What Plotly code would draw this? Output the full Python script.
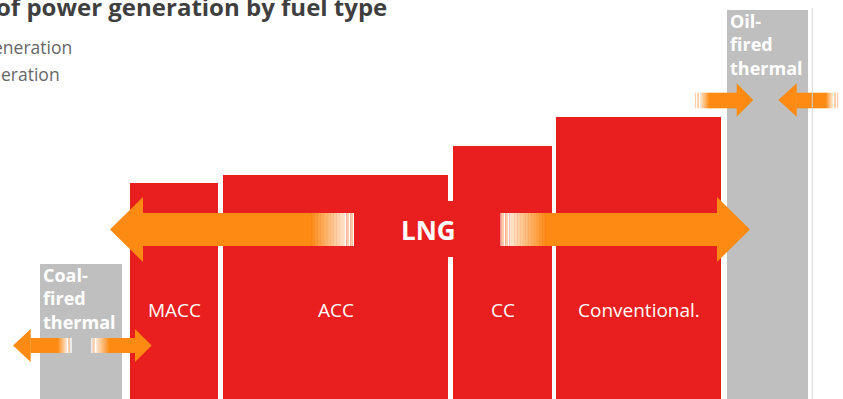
import plotly.graph_objects as go

# ---------------- data ----------------
categories = ["Coal-fired thermal", "MACC", "ACC", "CC", "Conventional.", "Oil-fired thermal"]
bar_labels = ["Coal-<br>fired<br>thermal", "MACC", "ACC", "CC", "Conventional.", "Oil-<br>fired<br>thermal"]
widths = [82, 88, 225, 99, 165, 81]
heights = [135, 216, 224, 253, 282, 389]
fuel_group = ["other", "lng", "lng", "lng", "lng", "other"]
title_text = "of power generation by fuel type"
legend_lines = ["eneration", "eration"]
center_label = "LNG"

# ---------------- style ----------------
W, H = 843, 399
RED = "#E91E1E"
GRAY = "#BFBFBF"
ORANGE = "#FD8A12"
LIGHT = "#FFE6D0"
STRIPE = "#FFCDA8"
FONT = "Open Sans"
GAPS = [8, 5, 5, 4, 6]
X_START = 40

lefts = []
xpos = X_START
for i, w in enumerate(widths):
    lefts.append(xpos)
    xpos += w + (GAPS[i] if i < len(GAPS) else 0)
centers = [l + w / 2 for l, w in zip(lefts, widths)]
colors = [RED if g == "lng" else GRAY for g in fuel_group]


def Y(py):
    return H - py


shapes = []


def rect(x0, x1, y0, y1, color):
    shapes.append(dict(type="rect", xref="x", yref="y", x0=x0, x1=x1, y0=Y(y1), y1=Y(y0),
                       fillcolor=color, line=dict(width=0), layer="above"))


def tri(pts, color):
    d = "M " + " L ".join(f"{x},{Y(y)}" for x, y in pts) + " Z"
    shapes.append(dict(type="path", xref="x", yref="y", path=d, fillcolor=color,
                       line=dict(width=0), layer="above"))


def hexrgb(c):
    c = c.lstrip("#")
    return tuple(int(c[i:i + 2], 16) for i in (0, 2, 4))


def grad(x0, x1, y0, y1, c0, c1, n=24):
    a, b = hexrgb(c0), hexrgb(c1)
    step = (x1 - x0) / n
    for i in range(n):
        t = i / (n - 1)
        col = "rgb(%d,%d,%d)" % tuple(round(a[k] + (b[k] - a[k]) * t) for k in range(3))
        rect(x0 + i * step, x0 + (i + 1) * step + 0.4, y0, y1, col)


def stripes(x0, y0, y1, seq):
    x = x0
    for w, col in seq:
        rect(x, x + w, y0, y1, col)
        x += w


# red box behind LNG label (breaks the gap line)
rect(357, 499, 201, 257, RED)

# LNG double arrow
sy0, sy1, hy0, hy1, cy = 213, 246, 197, 262, 229.5
tri([(110, cy), (143, hy0), (143, hy1)], ORANGE)
rect(142.5, 310, sy0, sy1, ORANGE)
grad(310, 345, sy0, sy1, ORANGE, LIGHT)
stripes(345, sy0, sy1, [(1.5, "white"), (2.5, STRIPE), (1.5, "white"), (2.5, STRIPE), (1.0, "white")])
stripes(500.5, sy0, sy1, [(1.0, "white"), (2.5, STRIPE), (1.5, "white"), (2.5, STRIPE), (1.5, "white")])
grad(509.5, 547, sy0, sy1, LIGHT, ORANGE)
rect(546.5, 717.5, sy0, sy1, ORANGE)
tri([(750, cy), (717, hy0), (717, hy1)], ORANGE)

# coal double arrow
sy0, sy1, hy0, hy1, cy = 338, 353, 329, 362, 345.5
tri([(13, cy), (30.7, hy0), (30.7, hy1)], ORANGE)
rect(30.5, 57, sy0, sy1, ORANGE)
grad(57, 67, sy0, sy1, ORANGE, LIGHT, 10)
stripes(67, sy0, sy1, [(1.2, "white"), (2.2, STRIPE), (1.3, "white")])
stripes(91.3, sy0, sy1, [(1.3, "white"), (2.2, STRIPE), (1.2, "white")])
grad(96, 110, sy0, sy1, LIGHT, ORANGE, 12)
rect(109.5, 135.5, sy0, sy1, ORANGE)
tri([(151.7, cy), (135, hy0), (135, hy1)], ORANGE)

# oil converging arrows
sy0, sy1, hy0, hy1, cy = 92.7, 108.3, 83.3, 116.7, 100
stripes(695, sy0, sy1, [(1.2, STRIPE), (1.0, "white"), (2.0, STRIPE), (1.0, "white")])
grad(700, 710, sy0, sy1, LIGHT, ORANGE, 10)
rect(709.5, 737, sy0, sy1, ORANGE)
tri([(753.3, cy), (736.7, hy0), (736.7, hy1)], ORANGE)
tri([(778.3, cy), (796.7, hy0), (796.7, hy1)], ORANGE)
rect(796.5, 825.5, sy0, sy1, ORANGE)
grad(825, 833, sy0, sy1, ORANGE, LIGHT, 8)
stripes(833, sy0, sy1, [(1.0, "white"), (2.0, STRIPE), (1.0, "white"), (1.2, STRIPE)])

# thin right border line
shapes.append(dict(type="line", xref="x", yref="y", x0=812.3, x1=812.3, y0=Y(8), y1=Y(H),
                   line=dict(color="#D4D4D4", width=1), layer="above"))

fig = go.Figure()
fig.add_trace(go.Bar(x=centers, y=heights, width=widths, marker=dict(color=colors, line=dict(width=0)),
                     hoverinfo="skip", showlegend=False, text=categories, textposition="none"))

annotations = []
# title and legend fragments
annotations.append(dict(x=389, y=Y(6), xref="x", yref="y", xanchor="right", yanchor="middle",
                        text="<b>" + title_text + "</b>", showarrow=False,
                        font=dict(family=FONT, size=24, color="#3F3F3F")))
annotations.append(dict(x=74, y=Y(47), xref="x", yref="y", xanchor="right", yanchor="middle",
                        text=legend_lines[0], showarrow=False,
                        font=dict(family=FONT, size=17.5, color="#666666")))
annotations.append(dict(x=62, y=Y(74), xref="x", yref="y", xanchor="right", yanchor="middle",
                        text=legend_lines[1], showarrow=False,
                        font=dict(family=FONT, size=17.5, color="#666666")))

# bar labels
for i, (c, lab) in enumerate(zip(centers, bar_labels)):
    if fuel_group[i] == "lng":
        annotations.append(dict(x=c, y=Y(310), xref="x", yref="y", xanchor="center", yanchor="middle",
                                text=lab, showarrow=False,
                                font=dict(family=FONT, size=19, color="white")))
    else:
        top = H - heights[i]
        annotations.append(dict(x=lefts[i] + 1, y=Y(top + 34), xref="x", yref="y", xanchor="left",
                                yanchor="middle", align="left", text="<b>" + lab + "</b>", showarrow=False,
                                font=dict(family=FONT, size=18, color="white")))

annotations.append(dict(x=428, y=Y(230), xref="x", yref="y", xanchor="center", yanchor="middle",
                        text="<b>" + center_label + "</b>", showarrow=False,
                        font=dict(family=FONT, size=26, color="white")))

fig.update_layout(
    width=W, height=H, margin=dict(l=0, r=0, t=0, b=0),
    paper_bgcolor="white", plot_bgcolor="white",
    xaxis=dict(range=[0, W], visible=False, fixedrange=True),
    yaxis=dict(range=[0, H], visible=False, fixedrange=True),
    shapes=shapes, annotations=annotations, showlegend=False,
)

fig.write_html("out.html")
